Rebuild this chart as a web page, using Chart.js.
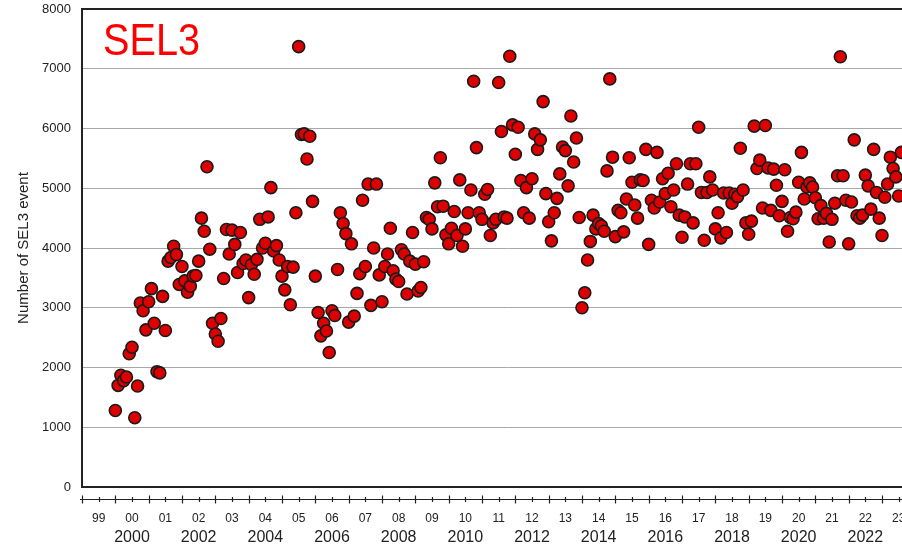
<!DOCTYPE html>
<html>
<head>
<meta charset="utf-8">
<script src="https://cdn.jsdelivr.net/npm/chart.js@4.4.0/dist/chart.umd.min.js"></script>
<style>
  html, body { margin: 0; padding: 0; background: #fff; overflow: hidden; }
  #wrap { width: 902px; height: 547px; overflow: hidden; }
</style>
</head>
<body>
<div id="wrap"><canvas id="chart" width="932" height="547"></canvas></div>
<script>
// monthly SEL3 event counts, one row per year, starting Jan 2000
const startYear = 2000;
const sel3Events = [
  1280, 1700, 1870, 1780, 1840, 2230, 2340, 1160, 1690, 3080, 2950, 2630, // 2000
  3100, 3320, 2740, 1930, 1910, 3190, 2620, 3780, 3840, 4030, 3890, 3390, // 2001
  3690, 3450, 3260, 3360, 3530, 3540, 3780, 4500, 4280, 5360, 3980, 2740, // 2002
  2560, 2440, 2820, 3490, 4310, 3900, 4300, 4060, 3590, 4260, 3740, 3800, // 2003
  3170, 3720, 3560, 3810, 4480, 4000, 4080, 4520, 5010, 3950, 4040, 3800, // 2004
  3530, 3300, 3690, 3050, 3680, 4590, 7370, 5900, 5910, 5490, 5870, 4780, // 2005
  3530, 2920, 2530, 2740, 2610, 2250, 2950, 2870, 3640, 4590, 4410, 4240, // 2006
  2760, 4070, 2860, 3240, 3570, 4800, 3690, 5070, 3040, 4000, 5070, 3550, // 2007
  3100, 3690, 3900, 4330, 3620, 3480, 3440, 3970, 3900, 3230, 3780, 4260, // 2008
  3730, 3280, 3340, 3770, 4510, 4480, 4320, 5090, 4690, 5510, 4700, 4220, // 2009
  4070, 4330, 4610, 4210, 5140, 4030, 4320, 4590, 4970, 6790, 5680, 4590, // 2010
  4480, 4900, 4980, 4210, 4420, 4480, 6770, 5950, 4520, 4500, 7210, 6060, // 2011
  5570, 6020, 5130, 4590, 5010, 4500, 5160, 5910, 5650, 5810, 6450, 4910, // 2012
  4440, 4120, 4590, 4830, 5240, 5690, 5630, 5040, 6210, 5440, 5840, 4510, // 2013
  3000, 3250, 3800, 4110, 4550, 4320, 4410, 4370, 4280, 5290, 6830, 5520, // 2014
  4190, 4630, 4590, 4270, 4820, 5510, 5100, 4720, 4500, 5140, 5130, 5650, // 2015
  4060, 4800, 4670, 5600, 4770, 5160, 4910, 5250, 4690, 4970, 5410, 4550, // 2016
  4180, 4520, 5070, 5410, 4420, 5410, 6020, 4930, 4130, 4930, 5190, 4970, // 2017
  4320, 4590, 4170, 4920, 4260, 4920, 4750, 4900, 4860, 5670, 4970, 4420, // 2018
  4230, 4450, 6040, 5330, 5470, 4670, 6050, 5340, 4630, 5320, 5050, 4540, // 2019
  4780, 5310, 4280, 4510, 4490, 4600, 5100, 5600, 4820, 5020, 5090, 5020, // 2020
  4840, 4490, 4710, 4500, 4580, 4100, 4480, 4750, 5210, 7200, 5210, 4800, // 2021
  4070, 4770, 5810, 4540, 4500, 4550, 5220, 5040, 4650, 5650, 4930, 4500, // 2022
  4210, 4850, 5070, 5520, 5330, 5190, 4870, 5600                          // 2023
];

// axis ticks / labels
const yTicks = [0, 1000, 2000, 3000, 4000, 5000, 6000, 7000, 8000];
const axisYears = [1999, 2000, 2001, 2002, 2003, 2004, 2005, 2006, 2007, 2008, 2009, 2010, 2011,
                   2012, 2013, 2014, 2015, 2016, 2017, 2018, 2019, 2020, 2021, 2022, 2023];
const shortYearLabels = ['99', '00', '01', '02', '03', '04', '05', '06', '07', '08', '09', '10', '11',
                         '12', '13', '14', '15', '16', '17', '18', '19', '20', '21', '22', '23'];
const longYearLabels = ['2000', '2002', '2004', '2006', '2008', '2010', '2012', '2014', '2016', '2018', '2020', '2022'];

const points = sel3Events.map((v, i) => ({ x: startYear + i / 12, y: v }));

const FONT = '"Liberation Sans", Arial, Helvetica, sans-serif';

// red "SEL3" tag inside the plot
const panelTitle = {
  id: 'panelTitle',
  afterDraw(chart) {
    const ctx = chart.ctx;
    ctx.save();
    ctx.font = '45px ' + FONT;
    ctx.fillStyle = '#ff0000';
    ctx.textBaseline = 'alphabetic';
    const w = ctx.measureText('SEL3').width;
    ctx.translate(103, 55);
    ctx.scale(97 / w, 1);
    ctx.fillText('SEL3', 0, 0);
    ctx.restore();
  }
};

// detached time axis line under the plot frame
const axisLine = {
  id: 'axisLine',
  afterDraw(chart) {
    const { ctx, chartArea } = chart;
    const x = chart.scales.x;
    const y = chartArea.bottom + 12.5;
    ctx.save();
    ctx.strokeStyle = '#222';
    ctx.lineWidth = 1.2;
    ctx.beginPath();
    ctx.moveTo(x.left - 2, y);
    ctx.lineTo(x.right, y);
    x.ticks.forEach(t => {
      const px = Math.round(x.getPixelForValue(t.value)) + 0.5;
      const h = (t.value % 1 === 0) ? 4 : 2.5;
      ctx.moveTo(px, y - h);
      ctx.lineTo(px, y + h);
    });
    ctx.stroke();
    ctx.restore();
  }
};

function labelIdx(v) { return Math.floor(v) - axisYears[0]; }

// invisible tick marks are used as label offsets (keeps the frame padding tight)
const hiddenTicks = len => ({
  display: true, drawOnChartArea: false, drawTicks: true,
  tickLength: len, tickColor: 'rgba(0,0,0,0)', color: 'rgba(0,0,0,0)'
});

new Chart(document.getElementById('chart').getContext('2d'), {
  type: 'scatter',
  data: {
    datasets: [{
      data: points,
      backgroundColor: '#dd0000',
      borderColor: '#1a1a1a',
      borderWidth: 1.6,
      pointRadius: 6,
      pointHoverRadius: 6
    }]
  },
  options: {
    responsive: false,
    animation: false,
    devicePixelRatio: 1,
    layout: { autoPadding: false, padding: { top: 9, left: 0, right: 0, bottom: 0 } },
    plugins: { legend: { display: false }, tooltip: { enabled: false } },
    scales: {
      x: {
        type: 'linear',
        position: 'bottom',
        weight: 0,
        min: 1999,
        max: 2024.5,
        grid: hiddenTicks(24),
        border: { display: false },
        afterFit: s => { s.height = 39; },
        ticks: {
          stepSize: 0.5,
          autoSkip: false,
          maxRotation: 0,
          padding: 0,
          color: '#222',
          font: { family: FONT, size: 12 },
          callback: v => (v % 1 === 0.5) ? (shortYearLabels[labelIdx(v)] || '') : ''
        }
      },
      x2: {
        type: 'linear',
        position: 'bottom',
        axis: 'x',
        weight: 1,
        min: 1999,
        max: 2024.5,
        grid: hiddenTicks(2),
        border: { display: false },
        afterFit: s => { s.height = 21; },
        ticks: {
          stepSize: 0.5,
          autoSkip: false,
          maxRotation: 0,
          padding: 0,
          color: '#222',
          font: { family: FONT, size: 16 },
          callback: v => {
            if (v % 1 !== 0.5) return '';
            const lbl = String(Math.floor(v));
            return longYearLabels.includes(lbl) ? lbl : '';
          }
        }
      },
      y: {
        min: yTicks[0],
        max: yTicks[yTicks.length - 1],
        afterFit: s => { s.width = 82; },
        afterBuildTicks: s => { s.ticks = yTicks.map(v => ({ value: v })); },
        border: { display: true, color: '#222', width: 2 },
        grid: {
          drawTicks: true,
          tickLength: 11,
          tickColor: 'rgba(0,0,0,0)',
          color: c => (c.tick.value === 0 || c.tick.value === 8000) ? '#222' : '#a8a8a8',
          lineWidth: c => (c.tick.value === 0 || c.tick.value === 8000) ? 2 : 1
        },
        ticks: {
          padding: 0,
          color: '#222',
          font: { family: FONT, size: 13 },
          callback: v => String(v)
        },
        title: {
          display: true,
          text: 'Number of SEL3 event',
          color: '#222',
          font: { family: FONT, size: 15 },
          padding: { top: 15, bottom: 0 }
        }
      }
    }
  },
  plugins: [panelTitle, axisLine]
});
</script>
</body>
</html>
